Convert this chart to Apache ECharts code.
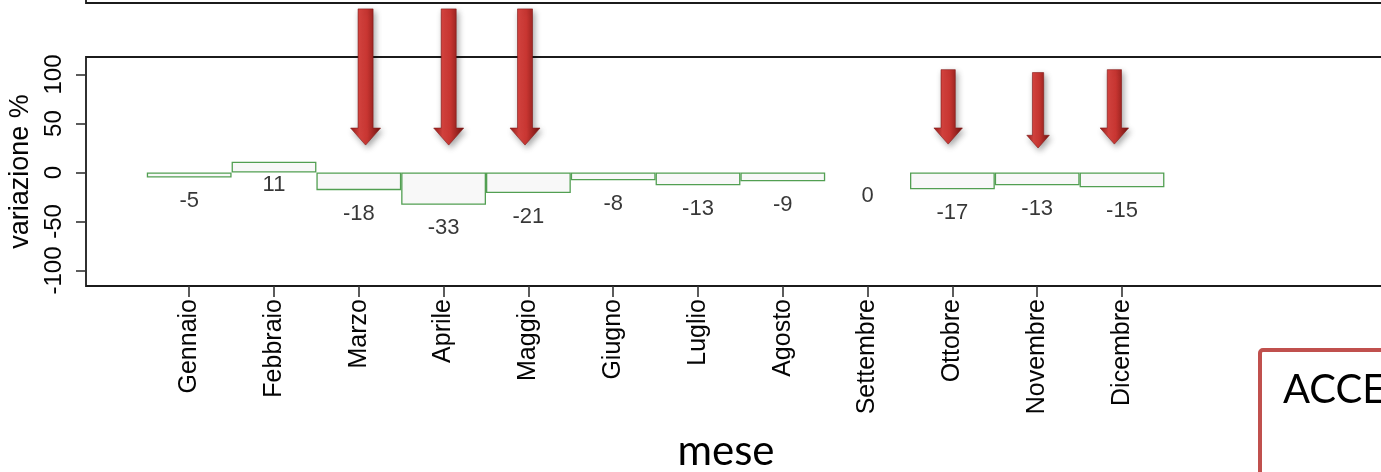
<!DOCTYPE html>
<html>
<head>
<meta charset="utf-8">
<script src="https://cdn.jsdelivr.net/npm/echarts@6/dist/echarts.min.js"></script>
<style>
  html, body { margin: 0; padding: 0; background: #ffffff; }
  #chart { width: 1381px; height: 472px; }
</style>
</head>
<body>
<div id="chart"></div>
<script>
// Mesi e variazione percentuale mensile
const mesi = ['Gennaio', 'Febbraio', 'Marzo', 'Aprile', 'Maggio', 'Giugno',
              'Luglio', 'Agosto', 'Settembre', 'Ottobre', 'Novembre', 'Dicembre'];
const variazione = [-5, 11, -18, -33, -21, -8, -13, -9, 0, -17, -13, -15];
const yTicks = [-100, -50, 0, 50, 100];

// Frecce di evidenziazione: mese, valore della punta, valore della coda
const frecceMesi = ['Marzo', 'Aprile', 'Maggio', 'Ottobre', 'Novembre', 'Dicembre'];
const freccePunta = [28, 28, 28, 29, 25, 29];
const frecceCoda = [167, 167, 167, 105, 102, 105];

// Aspetto delle frecce (spostamento in frazione di banda, scala)
const frecceSpostamento = [0.08, 0.06, -0.04, -0.05, 0.01, -0.09];
const frecceScala = [1, 1, 1, 0.95, 0.75, 0.95];

const AXIS_FONT = 'Liberation Sans, Arial, sans-serif';
const FRAME = '#1b1b1b';
const INK = '#050505';

const chart = echarts.init(document.getElementById('chart'), null, { renderer: 'canvas' });

function disegnaFreccia(params, api) {
  const k = params.dataIndex;
  const idx = api.value(0);
  const punta = api.coord([idx, api.value(1)]);
  const coda = api.coord([idx, api.value(2)]);
  const band = api.size([1, 0])[0];
  const s = frecceScala[k];
  const cx = punta[0] + frecceSpostamento[k] * band;
  const sw = 7.5 * s;
  const hw = 15 * s;
  const hh = 17 * s;
  const yTip = punta[1];
  const yTop = coda[1];
  const yHead = yTip - hh;
  return {
    type: 'polygon',
    shape: {
      points: [
        [cx - sw, yTop], [cx + sw, yTop], [cx + sw, yHead], [cx + hw, yHead],
        [cx, yTip], [cx - hw, yHead], [cx - sw, yHead]
      ]
    },
    style: {
      fill: {
        type: 'linear', x: 0, y: 0, x2: 1, y2: 0,
        colorStops: [
          { offset: 0, color: '#951c19' },
          { offset: 0.3, color: '#d6433f' },
          { offset: 0.55, color: '#c83632' },
          { offset: 1, color: '#741310' }
        ]
      },
      stroke: '#831815',
      lineWidth: 0.6,
      shadowBlur: 6,
      shadowColor: 'rgba(0,0,0,0.35)',
      shadowOffsetX: 2,
      shadowOffsetY: 3
    }
  };
}

const option = {
  animation: false,
  backgroundColor: '#ffffff',
  grid: [
    { left: 146.8, right: 216.6, top: 57, bottom: 186, show: false, outerBoundsMode: 'none' },
    { left: 86, right: -30, top: 57, bottom: 186, show: true, borderColor: FRAME, borderWidth: 1.8,
      backgroundColor: 'transparent', outerBoundsMode: 'none' },
    { left: 86, right: -30, top: -60, height: 63, show: true, borderColor: FRAME, borderWidth: 1.8,
      backgroundColor: 'transparent', outerBoundsMode: 'none' }
  ],
  xAxis: [
    {
      type: 'category', gridIndex: 0, data: mesi, position: 'bottom',
      axisLine: { show: false, onZero: false },
      axisTick: { show: true, alignWithLabel: true, length: 11, lineStyle: { color: '#333', width: 1.6 } },
      axisLabel: { interval: 0, rotate: 90, margin: 13, fontFamily: AXIS_FONT, fontSize: 25, color: INK },
      splitLine: { show: false }
    },
    { type: 'value', gridIndex: 1, show: false },
    { type: 'value', gridIndex: 2, show: false }
  ],
  yAxis: [
    {
      type: 'value', gridIndex: 0, min: -115.8, max: 117.9, offset: 60.8,
      axisLine: { show: false, onZero: false },
      axisTick: { show: true, length: 10, customValues: yTicks, lineStyle: { color: '#333', width: 1.6 } },
      axisLabel: { rotate: 90, margin: 20, customValues: yTicks, fontFamily: AXIS_FONT, fontSize: 24, color: INK },
      splitLine: { show: false },
      name: 'variazione %', nameLocation: 'middle', nameRotate: 90, nameGap: 44,
      nameTextStyle: { fontFamily: AXIS_FONT, fontSize: 27, color: INK }
    },
    { type: 'value', gridIndex: 1, show: false },
    { type: 'value', gridIndex: 2, show: false }
  ],
  series: [
    {
      type: 'bar', xAxisIndex: 0, yAxisIndex: 0,
      barCategoryGap: '0%',
      data: variazione.map(v => (v === 0 ? { value: v, itemStyle: { borderWidth: 0 } } : v)),
      itemStyle: { color: '#f8f8f8', borderColor: '#529f52', borderWidth: 1.3 },
      silent: true
    },
    {
      type: 'scatter', xAxisIndex: 0, yAxisIndex: 0,
      data: variazione.map((v, i) => [i, v]),
      symbolSize: 1,
      itemStyle: { color: 'rgba(0,0,0,0)' },
      label: {
        show: true, position: 'inside', offset: [0, 23.5],
        formatter: p => String(p.value[1]),
        fontFamily: AXIS_FONT, fontSize: 22, color: INK
      },
      silent: true
    },
    {
      type: 'custom', xAxisIndex: 0, yAxisIndex: 0,
      clip: false, z: 10, silent: true,
      data: frecceMesi.map((m, k) => [mesi.indexOf(m), freccePunta[k], frecceCoda[k]]),
      renderItem: disegnaFreccia
    }
  ],
  graphic: [
    {
      type: 'text', x: 726, y: 451, z: 20,
      style: { text: 'mese', fontFamily: 'Lato', fontSize: 42, fill: '#000', align: 'center', verticalAlign: 'middle' }
    },
    {
      type: 'rect', z: 20,
      shape: { x: 1260, y: 350, width: 200, height: 200, r: 3 },
      style: { fill: '#ffffff', stroke: '#c0504d', lineWidth: 4 }
    },
    {
      type: 'text', x: 1283, y: 390, z: 21,
      style: { text: 'ACCE', fontFamily: 'Lato', fontSize: 40, fill: '#000', align: 'left', verticalAlign: 'middle' }
    }
  ]
};

chart.setOption(option);
</script>
</body>
</html>
